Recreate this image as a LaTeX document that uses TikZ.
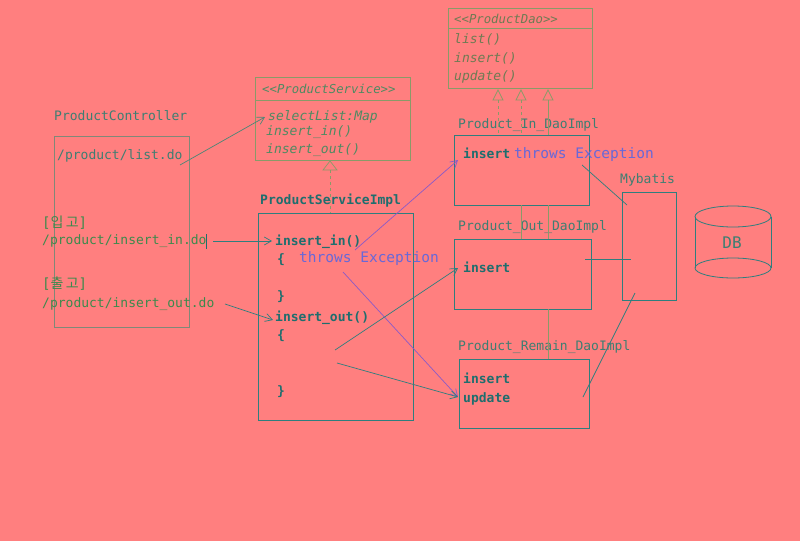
\documentclass[tikz,border=0pt]{standalone}
\usepackage{fontspec}
\setmonofont{DejaVu Sans Mono}
\newfontfamily\krfont{Noto Sans CJK KR}
\usetikzlibrary{arrows.meta}
\definecolor{bg}{HTML}{FF7F7F}
\definecolor{lab}{HTML}{3E7E72}
\definecolor{grn}{HTML}{3C8A4C}
\definecolor{dk}{HTML}{1E6E6E}
\definecolor{blu}{HTML}{6868D8}
\definecolor{pur}{HTML}{8A5AC8}
\definecolor{tl}{HTML}{2E7E7E}
\definecolor{olv}{HTML}{8A9A68}
\definecolor{gbox}{HTML}{808878}
\definecolor{itx}{HTML}{4E8A62}
\tikzset{
  txt/.style={inner sep=0pt, anchor=base west, font=\ttfamily\fontsize{13}{13}\selectfont},
  lbl/.style={txt, text=lab},
  code/.style={txt, text=dk, font=\ttfamily\bfseries\fontsize{13}{13}\selectfont},
  exc/.style={txt, text=blu, font=\ttfamily\fontsize{14.5}{14.5}\selectfont},
  ital/.style={txt, text=itx, font=\ttfamily\itshape\fontsize{13}{13}\selectfont},
  itsm/.style={txt, text=itx, font=\ttfamily\itshape\fontsize{12.3}{12.3}\selectfont},
  kor/.style={txt, text=grn, font=\ttfamily\fontsize{14}{14}\selectfont},
  boxline/.style={draw=tl, line width=0.8pt},
  tip/.style={-{Straight Barb[length=7pt,width=8pt]}},
  tline/.style={draw=tl, line width=0.7pt, tip},
  pline/.style={draw=pur, line width=0.7pt, tip},
  impl/.style={draw=olv, line width=0.7pt},
  tri/.style={draw=olv, line width=0.7pt}
}
\begin{document}
\begin{tikzpicture}[x=1pt,y=-1pt]
\fill[bg] (0,0) rectangle (800,541);
\useasboundingbox (0,0) rectangle (800,541);

% ProductDao interface
\draw[olv, line width=0.8pt] (448,8) rectangle (592,88);
\draw[olv, line width=0.8pt] (448,28) -- (592,28);
\node[itsm, text=olv!80!black] (daoh) at (454,23) {<<ProductDao>>};
\node[ital, text=olv!80!black] (dlist) at (454,43) {list()};
\node[ital, text=olv!80!black] (dins) at (454,62) {insert()};
\node[ital, text=olv!80!black] (dupd) at (454,80) {update()};

% ProductService interface
\draw[olv, line width=0.8pt] (255,77) rectangle (410,160);
\draw[olv, line width=0.8pt] (255,100) -- (410,100);
\node[itsm] (svh) at (262,93) {<<ProductService>>};
\node[ital] (sel) at (268,120) {selectList:Map};
\node[ital] (sin) at (266,135) {insert\_in()};
\node[ital] (sout) at (266,153) {insert\_out()};

% ProductController
\node[lbl] (ctl) at (54,120) {ProductController};
\draw[gbox, line width=0.8pt] (54,136) rectangle (189,327);
\node[lbl] (listdo) at (57,159) {/product/list.do};
\node[kor] (ipgo) at (42,227) {[{\krfont\fontsize{14}{14}\selectfont 입\,고}]};
\node[txt, text=grn] (insdo) at (42,244) {/product/insert\_in.do};
\draw[dk, line width=0.8pt] (206,234) -- (206,249);
\node[kor] (chulgo) at (42,288) {[{\krfont\fontsize{14}{14}\selectfont 출\,고}]};
\node[txt, text=grn] (outdo) at (42,307) {/product/insert\_out.do};

% ProductServiceImpl
\coordinate (svtip) at (330,161);
\draw[tri] (svtip) -- (323,170) -- (337,170) -- cycle;
\coordinate (svtop) at (330,170);
\coordinate (svbot) at (330,213);
\draw[impl, dashed] (svtop) -- (svbot);
\node[code] (implh) at (260,204) {ProductServiceImpl};
\draw[boxline] (258,213) rectangle (413,420);
\node[code] (iin) at (275,245) {insert\_in()};
\node[code] (b1) at (277,263) {\{};
\node[exc] (exc1) at (299,262) {throws Exception};
\node[code] (b2) at (277,300) {\}};
\node[code] (iout) at (275,321) {insert\_out()};
\node[code] (b3) at (277,339) {\{};
\node[code] (b4) at (277,395) {\}};

% DAO impls
\node[lbl] (inlbl) at (458,128) {Product\_In\_DaoImpl};
\draw[boxline] (454,135) rectangle (589,205);
\node[code] (inins) at (463,158) {insert};
\node[exc] (exc2) at (514,158) {throws Exception};

\node[lbl] (outlbl) at (458,230) {Product\_Out\_DaoImpl};
\draw[boxline] (454,239) rectangle (591,309);
\node[code] (outins) at (463,272) {insert};

\node[lbl] (remlbl) at (458,350) {Product\_Remain\_DaoImpl};
\draw[boxline] (459,359) rectangle (589,428);
\node[code] (remins) at (463,383) {insert};
\node[code] (remupd) at (463,402) {update};

% Mybatis
\node[lbl] (myb) at (620,183) {Mybatis};
\draw[boxline] (622,192) rectangle (676,300);

% DB cylinder
\draw[tl, line width=0.8pt] (695,216.5) -- (695,268);
\draw[tl, line width=0.8pt] (771,216.5) -- (771,268);
\draw[tl, line width=0.8pt] (733,216.5) ellipse [x radius=38, y radius=10.5];
\draw[tl, line width=0.8pt] (733,268) ellipse [x radius=38, y radius=10];
\node[txt, text=lab, anchor=center, font=\ttfamily\fontsize{16}{16}\selectfont] (db) at (732,243) {DB};

% implementation arrows to ProductDao
\foreach \n/\x in {a/498,b/521,c/548}{
  \coordinate (t\n) at (\x,90);
  \draw[tri] (t\n) -- (\x-5,100) -- (\x+5,100) -- cycle;
  \coordinate (s\n) at (\x,100);
}
\coordinate (ea) at (498,135);
\coordinate (eb) at (521,239);
\coordinate (ec) at (548,359);
\draw[impl, dashed] (sa) -- (ea);
\draw[impl, dashed] (sb) -- (521,135);
\draw[impl] (521,205) -- (eb);
\draw[impl] (sc) -- (548,135);
\draw[impl] (548,205) -- (548,239);
\draw[impl] (548,309) -- (ec);

% controller -> service
\coordinate (c1) at (180,165);
\coordinate (c1e) at (265,117);
\draw[tline, draw=tl!70!olv] (c1) -- (c1e);
\coordinate (c2) at (213,241);
\coordinate (c2e) at (272,241);
\draw[tline] (c2) -- (c2e);
\coordinate (c3) at (225,304);
\coordinate (c3e) at (273,320);
\draw[tline] (c3) -- (c3e);

% service -> dao
\coordinate (p1) at (355,250);
\coordinate (p1e) at (458,160);
\draw[pline] (p1) -- (p1e);
\coordinate (p2) at (343,272);
\coordinate (p2e) at (458,397);
\draw[pline] (p2) -- (p2e);
\coordinate (g1) at (335,350);
\coordinate (g1e) at (458,268);
\draw[tline] (g1) -- (g1e);
\coordinate (g2) at (337,363);
\coordinate (g2e) at (458,397);
\draw[tline] (g2) -- (g2e);

% dao -> mybatis
\coordinate (m1) at (582,165);
\coordinate (m1e) at (627,205);
\draw[tl, line width=0.7pt] (m1) -- (m1e);
\coordinate (m2) at (585,259);
\coordinate (m2e) at (631,259);
\draw[tl, line width=0.7pt] (m2) -- (m2e);
\coordinate (m3) at (583,397);
\coordinate (m3e) at (635,293);
\draw[tl, line width=0.7pt] (m3) -- (m3e);
\end{tikzpicture}
\end{document}
